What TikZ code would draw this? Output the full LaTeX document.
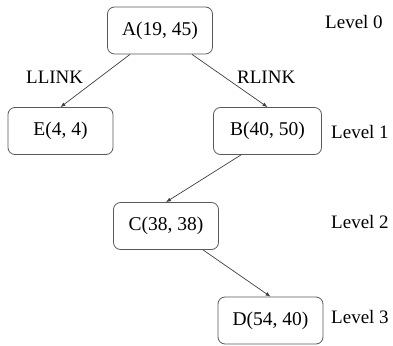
\documentclass[tikz,border=0pt]{standalone}
\usepackage{fontspec}
\setmainfont{Liberation Serif}
\usetikzlibrary{arrows.meta}
\begin{document}
\begin{tikzpicture}[x=1pt,y=-1pt,
  box/.style={draw=black!65,rounded corners=7pt,minimum width=105pt,minimum height=47pt,inner sep=0pt,font=\fontsize{19.5}{22}\selectfont,line width=0.8pt},
  lvl/.style={anchor=west,inner sep=0pt,font=\fontsize{19}{22}\selectfont},
  edge/.style={draw=black!75,line width=0.7pt,-{Latex[length=5pt,width=4pt]}}]
\useasboundingbox (0,0) rectangle (393,345);
\node[box] (A) at (160,30.5) {A(19, 45)};
\node[box] (E) at (60.5,131) {E(4, 4)};
\node[box,minimum width=108pt] (B) at (267.5,131) {B(40, 50)};
\node[box] (C) at (166,226) {C(38, 38)};
\node[box] (D) at (270.5,320.5) {D(54, 40)};
\node[lvl] (L0) at (325,22) {Level 0};
\node[lvl] (L1) at (331,132) {Level 1};
\node[lvl] (L2) at (331,222) {Level 2};
\node[lvl] (L3) at (331,317) {Level 3};
\node[lvl] (LL) at (26,77) {LLINK};
\node[lvl] (RL) at (237,77) {RLINK};
\draw[edge] ([xshift=-30pt]A.south) -- (E.north);
\draw[edge] ([xshift=32pt]A.south) -- (B.north);
\draw[edge] ([xshift=-26.5pt]B.south) -- (C.north);
\draw[edge] ([xshift=37pt]C.south) -- (D.north);
\end{tikzpicture}
\end{document}
